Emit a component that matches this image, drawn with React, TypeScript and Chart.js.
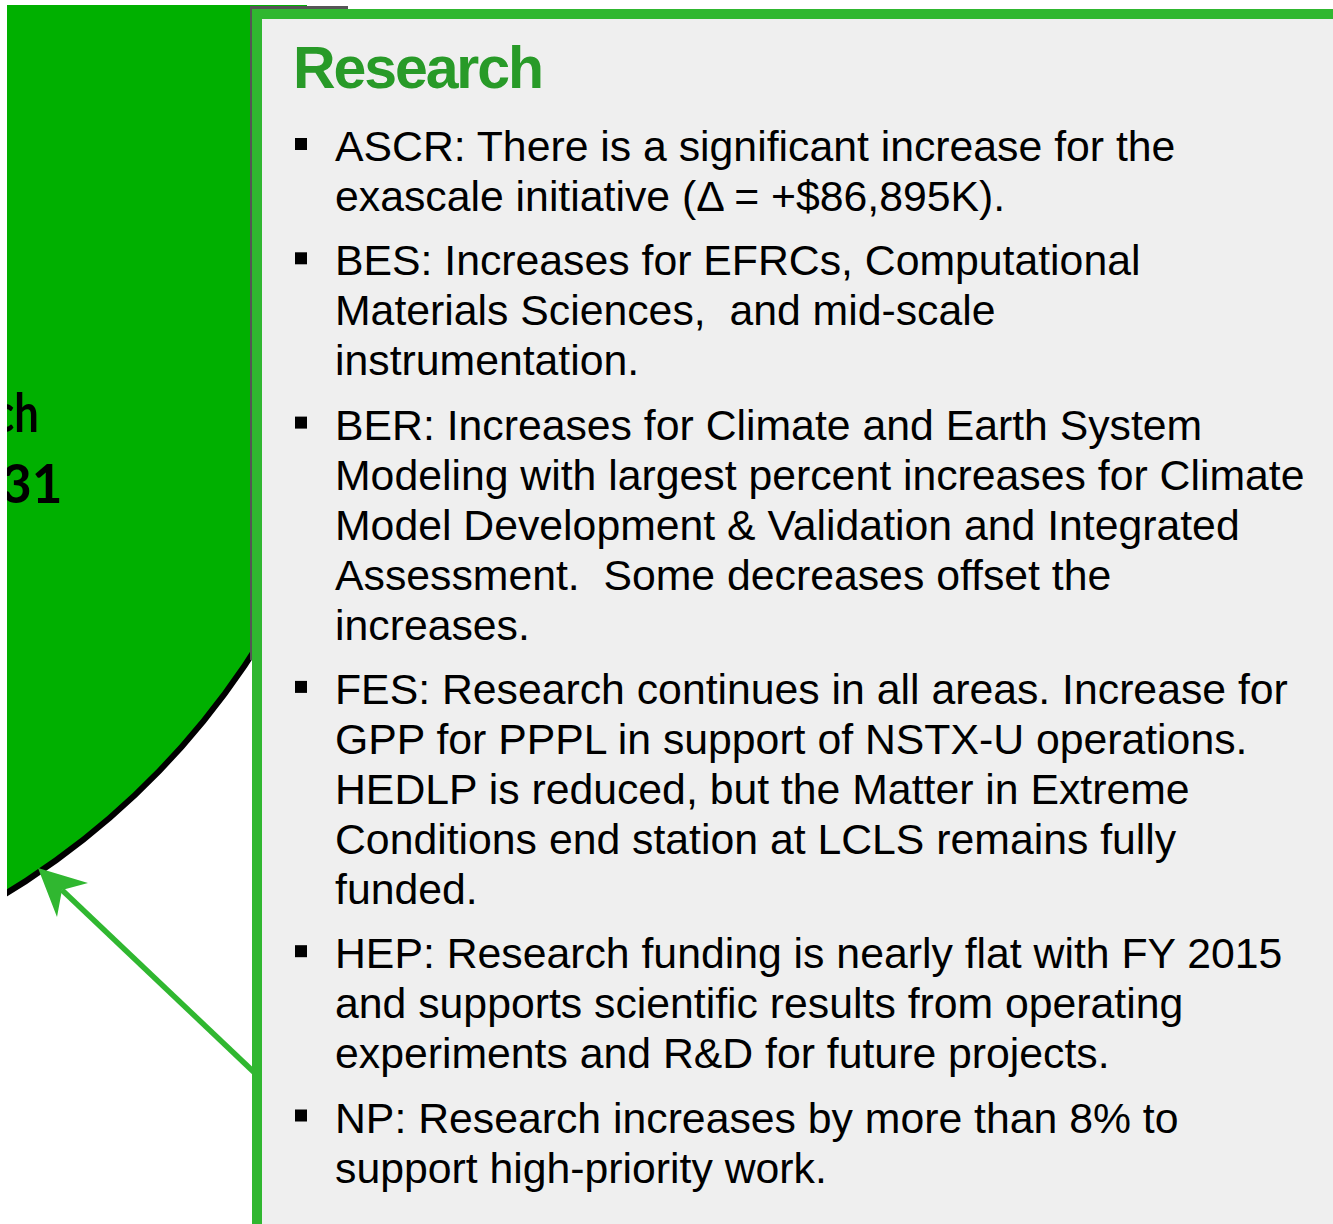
import React, { useEffect, useRef } from "react";
import { Chart, registerables } from "chart.js";

Chart.register(...registerables);

// ---- Pie data (only the Research slice falls inside the visible crop) ----
const sliceLabels = ["Research", "Facility Operations", "Projects", "Other"];
const sliceValues = [2461331, 1950000, 600000, 328463];
const sliceValueText = ["$2,461,331", "$1,950,000", "$600,000", "$328,463"];
const sliceColors = ["#00B000", "#2F5FB0", "#C03030", "#7A4FA0"];

// ---- Callout text ----
const calloutTitle = "Research";
const calloutParagraphs: string[][] = [
  ["ASCR: There is a significant increase for the", "exascale initiative (\u0394 = +$86,895K)."],
  ["BES: Increases for EFRCs, Computational", "Materials Sciences,  and mid-scale", "instrumentation."],
  [
    "BER: Increases for Climate and Earth System",
    "Modeling with largest percent increases for Climate",
    "Model Development & Validation and Integrated",
    "Assessment.  Some decreases offset the",
    "increases.",
  ],
  [
    "FES: Research continues in all areas. Increase for",
    "GPP for PPPL in support of NSTX-U operations.",
    "HEDLP is reduced, but the Matter in Extreme",
    "Conditions end station at LCLS remains fully",
    "funded.",
  ],
  [
    "HEP: Research funding is nearly flat with FY 2015",
    "and supports scientific results from operating",
    "experiments and R&D for future projects.",
  ],
  ["NP: Research increases by more than 8% to", "support high-priority work."],
];

const BOX_GREEN = "#30B730";
const TITLE_GREEN = "#289A28";

const sliceLabelPlugin = {
  id: "sliceLabels",
  afterDatasetsDraw(chart: any) {
    const ctx = chart.ctx;
    const meta = chart.getDatasetMeta(0);
    meta.data.forEach((arc: any, i: number) => {
      const p = arc.getProps(["x", "y", "startAngle", "endAngle", "outerRadius"], true);
      const mid = (p.startAngle + p.endAngle) / 2;
      const r = p.outerRadius * 0.545;
      const px = p.x + Math.cos(mid) * r;
      const py = p.y + Math.sin(mid) * r;
      ctx.save();
      ctx.translate(px, py);
      ctx.fillStyle = "#000";
      ctx.font = "bold 53px Lato, 'Open Sans', sans-serif";
      ctx.textAlign = "center";
      ctx.textBaseline = "alphabetic";
      ctx.fillText(sliceValueText[i], -24, 35.5);
      ctx.scale(0.82, 1);
      ctx.fillText(sliceLabels[i], 0, -35.5);
      ctx.restore();
    });
  },
};

function PieLayer() {
  const ref = useRef<HTMLCanvasElement | null>(null);
  useEffect(() => {
    if (!ref.current) return;
    const chart = new Chart(ref.current, {
      type: "pie",
      data: {
        labels: sliceLabels,
        datasets: [
          {
            data: sliceValues,
            backgroundColor: sliceColors,
            borderColor: "#000000",
            borderWidth: 6,
          },
        ],
      },
      options: {
        responsive: false,
        animation: false,
        events: [],
        rotation: 41.1,
        layout: { padding: 0 },
        plugins: {
          legend: { display: false },
          tooltip: { enabled: false },
          title: { display: false },
        },
      },
      plugins: [sliceLabelPlugin],
    });
    return () => chart.destroy();
  }, []);
  return (
    <div
      style={{
        position: "absolute",
        left: 7,
        top: 5,
        width: 300,
        height: 1219,
        overflow: "hidden",
      }}
    >
      <canvas
        ref={ref}
        width={1562}
        height={1562}
        style={{ position: "absolute", left: -1188, top: -556, width: 1562, height: 1562 }}
      />
    </div>
  );
}

export default function App() {
  const firstBaseline = 161;
  const lineHeight = 50;
  const paraGap = 14.3;
  const lines: { text: string; y: number; bullet: boolean }[] = [];
  let y = firstBaseline;
  calloutParagraphs.forEach((para, pi) => {
    if (pi > 0) y += paraGap;
    para.forEach((t, li) => {
      lines.push({ text: t, y, bullet: li === 0 });
      y += lineHeight;
    });
  });

  return (
    <div
      style={{
        position: "fixed",
        left: 0,
        top: 0,
        width: 1333,
        height: 1224,
        overflow: "hidden",
        background: "#ffffff",
      }}
    >
      <PieLayer />
      <svg
        width={1333}
        height={1224}
        style={{ position: "absolute", left: 0, top: 0 }}
      >
        <rect x={250} y={6} width={98} height={4} fill="#555555" />
        <rect x={250} y={6} width={3} height={654} fill="#555555" />
        <line x1={62} y1={890} x2={258} y2={1076} stroke={BOX_GREEN} strokeWidth={5.5} />
        <polygon points="38,868 88,883 62,890 57,917" fill={BOX_GREEN} />
        <rect
          x={257}
          y={14}
          width={1200}
          height={1220}
          fill="#EFEFEF"
          stroke={BOX_GREEN}
          strokeWidth={10}
        />
        <text
          x={293}
          y={88}
          fill={TITLE_GREEN}
          style={{
            fontFamily: "'Liberation Sans', Arial, sans-serif",
            fontWeight: "bold",
            fontSize: 59,
            letterSpacing: "-2.1px",
          }}
        >
          {calloutTitle}
        </text>
        {lines.map((l, i) => (
          <g key={i}>
            {l.bullet && <rect x={295} y={l.y - 23} width={12} height={12} fill="#000" />}
            <text
              x={335}
              y={l.y}
              fill="#000"
              style={{
                fontFamily: "'Liberation Sans', Arial, sans-serif",
                fontSize: 42.75,
                whiteSpace: "pre",
              }}
            >
              {l.text}
            </text>
          </g>
        ))}
      </svg>
    </div>
  );
}
